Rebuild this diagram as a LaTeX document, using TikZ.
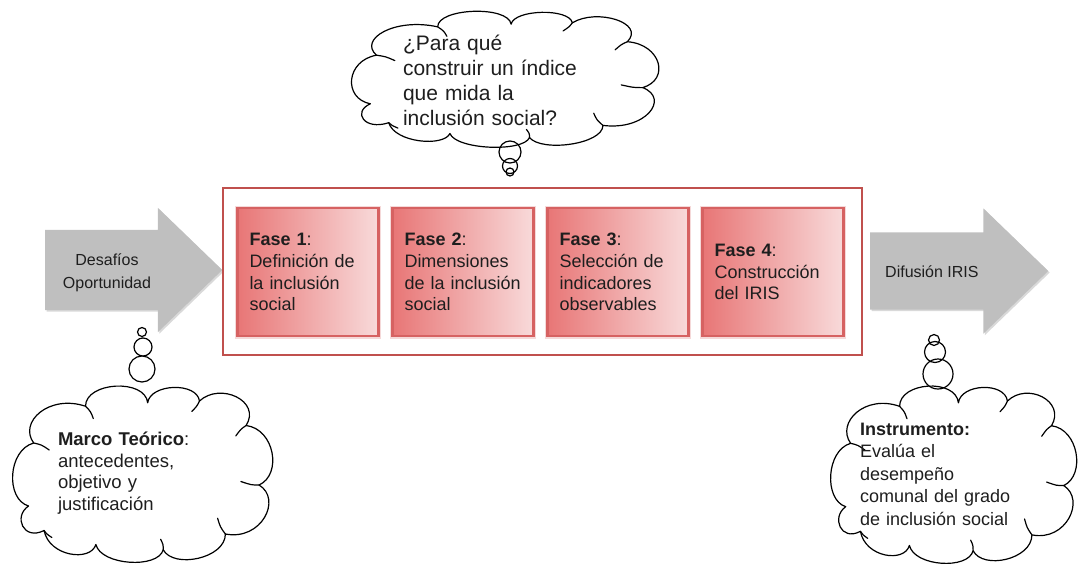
\documentclass[tikz,border=0pt]{standalone}
\usepackage{fontspec}
\setmainfont{Liberation Sans}
\usetikzlibrary{shapes.arrows,shadows}

\definecolor{marcorojo}{RGB}{192,80,77}
\definecolor{faseizq}{RGB}{232,118,118}
\definecolor{faseder}{RGB}{248,218,218}
\definecolor{faseborde}{RGB}{214,98,98}
\definecolor{flechagris}{RGB}{191,191,191}
\definecolor{texto}{RGB}{30,30,30}

\tikzset{
  fase/.style={draw=faseborde, line width=2.5pt, left color=faseizq, right color=faseder,
    minimum width=141pt, minimum height=128pt, text width=117pt, inner xsep=12pt,
    align=left, text=texto, font=\fontsize{18}{21.8}\selectfont,
    preaction={draw=faseborde!60, line width=5pt, opacity=.4}},
  flecha/.style={single arrow, fill=flechagris, inner xsep=0pt, anchor=tail,
    single arrow tip angle=88,
    drop shadow={shadow xshift=1.5pt, shadow yshift=-1.5pt, opacity=.3}},
  burbuja/.style={draw, line width=1.2pt},
  rotulo/.style={text=texto, inner xsep=0pt, align=left},
  % nube en una caja de 100 x 100
  nube/.pic={
    \draw[line width=1.2pt, line join=round]
      (6,68) .. controls (-3,64) and (-2,36) .. (8,32)
      .. controls (2,20) and (14,4) .. (28,11)
      .. controls (28,-3) and (51,-5) .. (52,9)
      .. controls (53,-2) and (71,-3) .. (72,8)
      .. controls (80,-3) and (96,8) .. (90,22)
      .. controls (101,24) and (104,50) .. (95,56)
      .. controls (104,64) and (96,88) .. (82,84)
      .. controls (82,98) and (62,104) .. (58,93)
      .. controls (56,104) and (34,102) .. (32,90)
      .. controls (30,100) and (14,97) .. (12,82)
      .. controls (4,88) and (0,74) .. (6,68) -- cycle;
    \draw[line width=1.2pt, line cap=round]
      (8,32) .. controls (11,33) .. (14,36)
      (28,11) .. controls (30,14) .. (31,18)
      (72,8) .. controls (71,11) .. (69,14)
      (90,22) .. controls (88,24) .. (86,28)
      (95,56) .. controls (92,56) .. (88,54)
      (82,84) .. controls (80,80) .. (79,75)
      (58,93) .. controls (58,90) .. (57,87)
      (12,82) .. controls (13,84) .. (15,86);
  }
}

\begin{document}
\begin{tikzpicture}[x=1pt, y=-1pt]
\useasboundingbox (0,0) rectangle (1078,563);

\node[flecha, minimum height=177pt, inner ysep=40pt, single arrow head extend=22pt] (desafios) at (45,270) {};
\node[flecha, minimum height=178pt, inner ysep=38.5pt, single arrow head extend=24pt] (difusion) at (870,271) {};
\node[rotulo, align=center, font=\fontsize{16}{23}\selectfont] (desafiostxt) at (107,273) {Desafíos\\Oportunidad};
\node[rotulo, anchor=base west, font=\fontsize{16}{23}\selectfont] (difusiontxt) at (885,277) {Difusión IRIS};

\node[draw=marcorojo, line width=1.5pt, minimum width=639pt, minimum height=167pt] (etapas) at (542.5,271.5) {};
\node[fase] (fase1) at (308,272) {\textbf{Fase 1}:\\Definición de\\la inclusión\\social};
\node[fase] (fase2) at (463,272) {\textbf{Fase 2}:\\Dimensiones\\de la inclusión\\social};
\node[fase] (fase3) at (618,272) {\textbf{Fase 3}:\\Selección de\\indicadores\\observables};
\node[fase] (fase4) at (773,272) {\textbf{Fase 4}:\\Construcción\\del IRIS};

% nubes de pensamiento
\pic[xscale=3.06, yscale=1.35] (pregunta) at (352,12) {nube};
\node[rotulo, text width=204pt, font=\fontsize{21}{25}\selectfont] (preguntatxt) at (505,80) {¿Para qué\\construir un índice\\que mida la\\inclusión social?};
\draw[burbuja] (510,152) circle (11pt) (510,166) circle (7.5pt) (510,172) circle (4pt);

\pic[xscale=2.59, yscale=1.75] (marco) at (13,387) {nube};
\node[rotulo, text width=168pt, font=\fontsize{18.5}{21.7}\selectfont] (marcotxt) at (142,473) {\textbf{Marco Teórico}:\\antecedentes,\\objetivo y\\justificación};
\draw[burbuja] (142,332) circle (4.5pt) (143,347) circle (9pt) (142,369) circle (13pt);

\pic[xscale=2.45, yscale=1.76] (instrumento) at (831,387) {nube};
\node[rotulo, text width=186pt, font=\fontsize{18}{22.5}\selectfont] (instrumentotxt) at (953,474) {\textbf{Instrumento:}\\Evalúa el\\desempeño\\comunal del grado\\de inclusión social};
\draw[burbuja] (934,340) circle (5.5pt) (935,352) circle (10.5pt) (938,374) circle (15pt);
\end{tikzpicture}
\end{document}
